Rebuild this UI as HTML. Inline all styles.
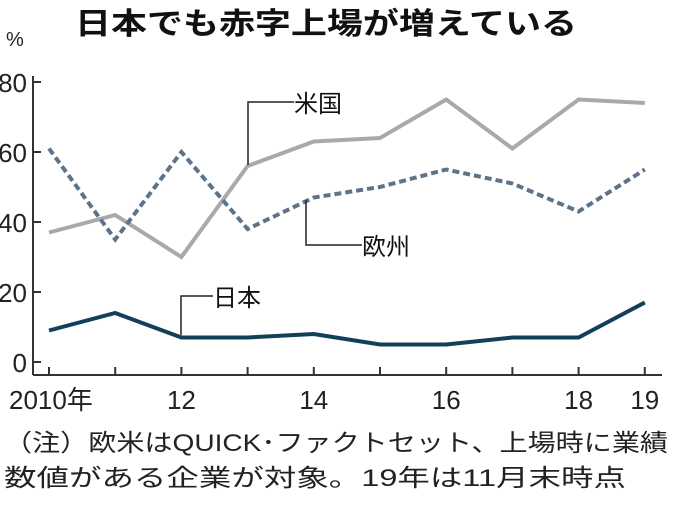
<!DOCTYPE html>
<html><head><meta charset="utf-8"><style>
body{margin:0;background:#fff;width:680px;height:506px;overflow:hidden;font-family:"Liberation Sans","Noto Sans CJK JP",sans-serif;}
svg text{font-family:"Liberation Sans","Noto Sans CJK JP",sans-serif;}
</style></head><body>
<svg width="680" height="506">
<text x="75" y="34" font-size="30" font-weight="bold" textLength="502" lengthAdjust="spacingAndGlyphs" fill="#111">日本でも赤字上場が増えている</text>
<text x="6" y="46" font-size="20" fill="#222">%</text>
<g id="axes"></g>
<g id="series"></g>
<g id="labels"></g>
<text x="4" y="451" font-size="24" textLength="664" lengthAdjust="spacingAndGlyphs" fill="#222">（注）欧米はQUICK･ファクトセット、上場時に業績</text>
<text x="4" y="486" font-size="24" textLength="622" lengthAdjust="spacingAndGlyphs" fill="#222">数値がある企業が対象。19年は11月末時点</text>
</svg>
<script>
const years=[2010,2011,2012,2013,2014,2015,2016,2017,2018,2019];
const xTickLabels=["2010年","","12","","14","","16","","18","19"];
const yTicks=[0,20,40,60,80];
const usValues=[37,42,30,56,63,64,75,61,75,74];
const euValues=[61,35,60,38,47,50,55,51,43,55];
const jpValues=[9,14,7,7,8,5,5,7,7,17];
const NS="http://www.w3.org/2000/svg";
const x=y=>49+(y-2010)*66.2;
const yS=v=>362-v*3.5;
function mk(tag,attrs,parent){const e=document.createElementNS(NS,tag);for(const k in attrs)e.setAttribute(k,attrs[k]);parent.appendChild(e);return e;}
const ax=document.getElementById('axes');
let l=mk('line',{x1:33,y1:76,x2:33,y2:375,stroke:'#333','stroke-width':2},ax);


l=mk('line',{x1:33,y1:375,x2:662,y2:375,stroke:'#333','stroke-width':2},ax);


yTicks.forEach(v=>{
 mk('line',{x1:33,y1:yS(v),x2:41,y2:yS(v),stroke:'#333','stroke-width':2},ax);
 const t=mk('text',{x:27,y:yS(v)+10,'font-size':26,'text-anchor':'end',fill:'#222'},ax);
 t.textContent=v;
 
 
});
years.forEach((yr,i)=>{
 mk('line',{x1:x(yr),y1:367,x2:x(yr),y2:375,stroke:'#333','stroke-width':2},ax);
 if(xTickLabels[i]){
  const t=mk('text',{x:i==0?x(yr)-40:x(yr),y:409,'font-size':26,'text-anchor':i==0?'start':'middle',fill:'#222'},ax);
  t.textContent=xTickLabels[i];
  
  
 }
});
const sg=document.getElementById('series');
function line(vals,stroke,dash,name){
 const p=mk('polyline',{points:vals.map((v,i)=>x(years[i])+','+yS(v)).join(' '),fill:'none',stroke:stroke,'stroke-width':4,'stroke-linejoin':'miter'},sg);
 if(dash)p.setAttribute('stroke-dasharray',dash);
 
 
}
line(usValues,'#aaa8ab',null,'us-line');
line(euValues,'#5e7288','7 4','europe-line');
line(jpValues,'#123f5a',null,'japan-line');
const lg=document.getElementById('labels');
function lab(pts,tx,ty,txt,name){
 mk('polyline',{points:pts,fill:'none',stroke:'#222','stroke-width':1.5},lg);
 const t=mk('text',{x:tx,y:ty,'font-size':24,fill:'#111'},lg);
 t.textContent=txt;
 
 
}
lab('248,165 248,102 294,102',294,112,'米国','us-label');
lab('306,200 306,245 362,245',362,255,'欧州','europe-label');
lab('181,335 181,296 213,296',213,306,'日本','japan-label');
</script>
</body></html>
